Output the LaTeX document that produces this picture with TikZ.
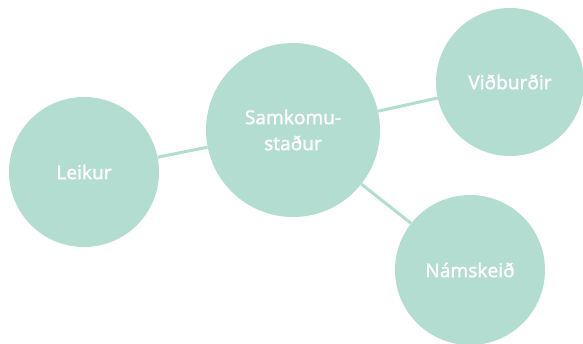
\documentclass[tikz,border=0pt]{standalone}
\usepackage{fontspec}
\newfontfamily\bubblefont[FakeBold=1.3]{Noto Sans}
\definecolor{mint}{HTML}{B2DDD0}
\tikzset{
  bubble/.style={circle, fill=mint, text=white, inner sep=0pt, align=center,
    font=\bubblefont\fontsize{19}{26}\selectfont},
  link/.style={draw=mint, line width=3pt}
}
\begin{document}
\begin{tikzpicture}[x=1pt,y=1pt]

% Frame of the picture
\useasboundingbox (0,0) rectangle (583,-343);

% Circles
\node[bubble, minimum size=174pt] (samkoma) at (293,-130) {Samkomu-\\staður};
\node[bubble, minimum size=150pt] (leikur) at (84,-172) {Leikur};
\node[bubble, minimum size=148pt] (vidburdir) at (510,-82) {Viðburðir};
\node[bubble, minimum size=150pt] (namskeid) at (470,-270) {Námskeið};

% Connectors
\draw[link] (leikur) -- (samkoma);
\draw[link] (samkoma) -- (vidburdir);
\draw[link] (samkoma) -- (namskeid);

\end{tikzpicture}
\end{document}
